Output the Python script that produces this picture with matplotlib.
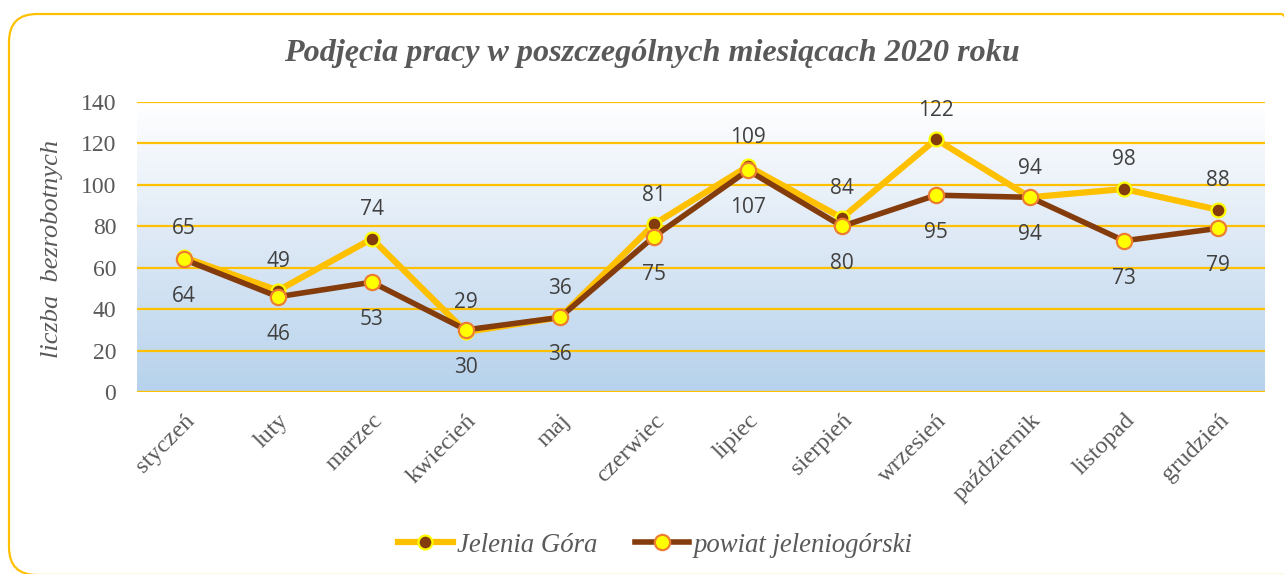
import numpy as np
import matplotlib
matplotlib.use("Agg")
import matplotlib.pyplot as plt
from matplotlib.patches import FancyBboxPatch
from matplotlib.lines import Line2D
from matplotlib.colors import LinearSegmentedColormap

months = ["styczeń", "luty", "marzec", "kwiecień", "maj", "czerwiec", "lipiec",
          "sierpień", "wrzesień", "październik", "listopad", "grudzień"]
jelenia_gora = [65, 49, 74, 29, 36, 81, 109, 84, 122, 94, 98, 88]
powiat = [64, 46, 53, 30, 36, 75, 107, 80, 95, 94, 73, 79]
y_ticks = [0, 20, 40, 60, 80, 100, 120, 140]

title = "Podjęcia pracy w poszczególnych miesiącach 2020 roku"
ylabel = "liczba  bezrobotnych"
series_names = ["Jelenia Góra", "powiat jeleniogórski"]

GOLD = "#FFC000"
BROWN = "#843C0C"
YELLOW = "#FFFF00"
ORANGE = "#ED7D31"
GRAY = "#595959"
LABEL = "#404040"
SERIF = "Liberation Serif"

W, H = 1284, 574
fig = plt.figure(figsize=(W / 100, H / 100), dpi=100)
fig.patch.set_facecolor("white")

# rounded border (pixel coordinates)
border = FancyBboxPatch((9, -1), 1300, 561, boxstyle="round,pad=0,rounding_size=28",
                        transform=None, facecolor="none", edgecolor=GOLD, linewidth=1.6)
fig.patches.append(border)

left, right, top, bottom = 137, 1265, 102, 392
ax = fig.add_axes([left / W, 1 - bottom / H, (right - left) / W, (bottom - top) / H])
x = np.arange(len(months))
ax.set_xlim(-0.5, len(months) - 0.5)
ax.set_ylim(0, 140)

# gradient background
grad = np.linspace(0, 1, 256).reshape(-1, 1)
cmap = LinearSegmentedColormap.from_list("bg", ["#B6D2EC", "#DCE8F5", "#FFFFFF"])
ax.imshow(grad, aspect="auto", cmap=cmap, origin="lower",
          extent=[-0.5, len(months) - 0.5, 0, 140], zorder=0)

for yv in y_ticks:
    ax.axhline(yv, color=GOLD, lw=1.6, zorder=1)

for s in ax.spines.values():
    s.set_visible(False)

ax.plot(x, jelenia_gora, color=GOLD, lw=4.5, marker="o", markersize=10,
        markerfacecolor=BROWN, markeredgecolor=YELLOW, markeredgewidth=1.6, zorder=3,
        solid_joinstyle="round")
ax.plot(x, powiat, color=BROWN, lw=4.0, marker="o", markersize=11,
        markerfacecolor=YELLOW, markeredgecolor=ORANGE, markeredgewidth=1.6, zorder=4,
        solid_joinstyle="round")

for xi, v in zip(x, jelenia_gora):
    ax.annotate(str(v), (xi, v), xytext=(0, 21), textcoords="offset points",
                ha="center", va="center", fontsize=15, color=LABEL,
                family="Open Sans", zorder=5)
for xi, v in zip(x, powiat):
    ax.annotate(str(v), (xi, v), xytext=(0, -27), textcoords="offset points",
                ha="center", va="center", fontsize=15, color=LABEL,
                family="Open Sans", zorder=5)

ax.set_yticks(y_ticks)
ax.set_yticklabels([str(t) for t in y_ticks], family=SERIF, fontsize=17, color=GRAY)
ax.tick_params(axis="y", length=0, pad=15)
ax.set_xticks(x)
ax.set_xticklabels(months, family=SERIF, fontsize=17.6, color=GRAY, rotation=45,
                   ha="right", va="top", rotation_mode="anchor")
ax.tick_params(axis="x", length=0, pad=13)

fig.text(52 / W, 1 - 249 / H, ylabel, rotation=90, ha="center", va="center",
         family=SERIF, style="italic", fontsize=19, color=GRAY)
fig.text(652 / W, 1 - 54 / H, title, ha="center", va="center", family=SERIF,
         style="italic", weight="bold", fontsize=23.1, color=GRAY)

handles = [
    Line2D([], [], color=GOLD, lw=4.5, marker="o", markersize=10, markerfacecolor=BROWN,
           markeredgecolor=YELLOW, markeredgewidth=1.6),
    Line2D([], [], color=BROWN, lw=4.0, marker="o", markersize=11, markerfacecolor=YELLOW,
           markeredgecolor=ORANGE, markeredgewidth=1.6),
]
leg = fig.legend(handles, series_names, loc="center", bbox_to_anchor=(655 / W, 1 - 545 / H),
                 ncol=2, frameon=False, handlelength=2.05, handletextpad=0.15,
                 columnspacing=1.4, prop={"family": SERIF, "style": "italic", "size": 19.3})
for t in leg.get_texts():
    t.set_color(GRAY)

fig.savefig("out.png", dpi=100, facecolor="white")
